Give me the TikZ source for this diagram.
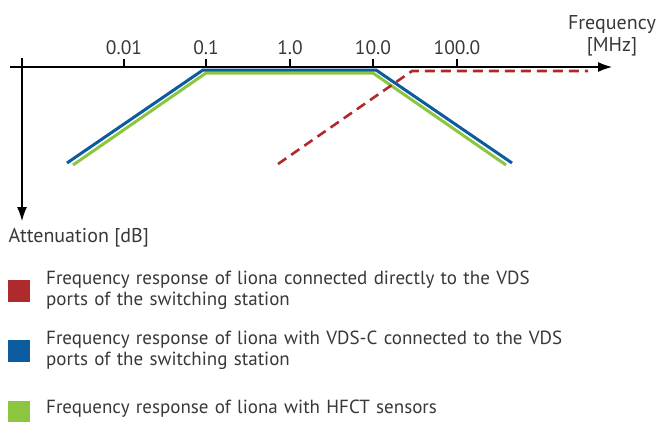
\documentclass[tikz,border=0pt]{standalone}
\usepackage{fontspec}
\setmainfont{PT Sans}
\usetikzlibrary{arrows.meta}
\definecolor{lionared}{HTML}{B0292D}
\definecolor{lionablue}{HTML}{0B5C9E}
\definecolor{lionagreen}{HTML}{8CC63F}
\definecolor{labelgray}{HTML}{383838}
\tikzset{
  axis/.style={line width=1.2pt, -{Latex[length=14pt,width=10pt]}},
  axislabel/.style={font=\fontsize{20}{22}\selectfont},
  curve/.style={line width=3pt},
  legendbox/.style={minimum width=22pt, minimum height=22pt, inner sep=0pt},
  legendtext/.style={anchor=north west, align=left, inner sep=0pt, text width=600pt}
}
\begin{document}
\begin{tikzpicture}[x=1pt, y=-1pt, font=\fontsize{19}{21}\selectfont, text=labelgray]
\useasboundingbox (0,0) rectangle (661,421);
% axes
\draw [axis] (10,67) -- (612,67) node (freq) [axislabel, anchor=south, align=center, inner sep=0pt, yshift=10pt] {Frequency\\{[MHz]}};
\draw [axis] (22,58) -- (22,221) node (atten) [axislabel, anchor=north west, inner sep=0pt, xshift=-14pt, yshift=-7pt] {Attenuation [dB]};
\foreach \x/\f in {124/0.01, 206/0.1, 290/1.0, 373/10.0, 457/100.0}{
  \draw [line width=1.2pt] (\x,59) node [above, inner sep=4pt, font=\fontsize{19.5}{21}\selectfont] {\f} -- (\x,67);
}
% responses
\draw [curve, lionagreen] (73,165) -- (206,73) -- (373,73) -- (506,165);
\draw [curve, lionablue] (67,163) -- (203,70) -- (376,70) -- (512,163);
\draw [curve, lionared, line width=2.6pt, dash pattern=on 10pt off 6pt] (278,164) -- (412,71) -- (588,71);
% legend
\node (keyred) [legendbox, fill=lionared] at (19,291) {};
\node (keyblue) [legendbox, fill=lionablue] at (19,351) {};
\node (keygreen) [legendbox, fill=lionagreen] at (19,412) {};
\node (txtred) [legendtext] at (46,271) {Frequency response of liona connected directly to the VDS\\ports of the switching station};
\node (txtblue) [legendtext] at (46,331) {Frequency response of liona with VDS-C connected to the VDS\\ports of the switching station};
\node (txtgreen) [legendtext] at (46,400) {Frequency response of liona with HFCT sensors};
\end{tikzpicture}
\end{document}
